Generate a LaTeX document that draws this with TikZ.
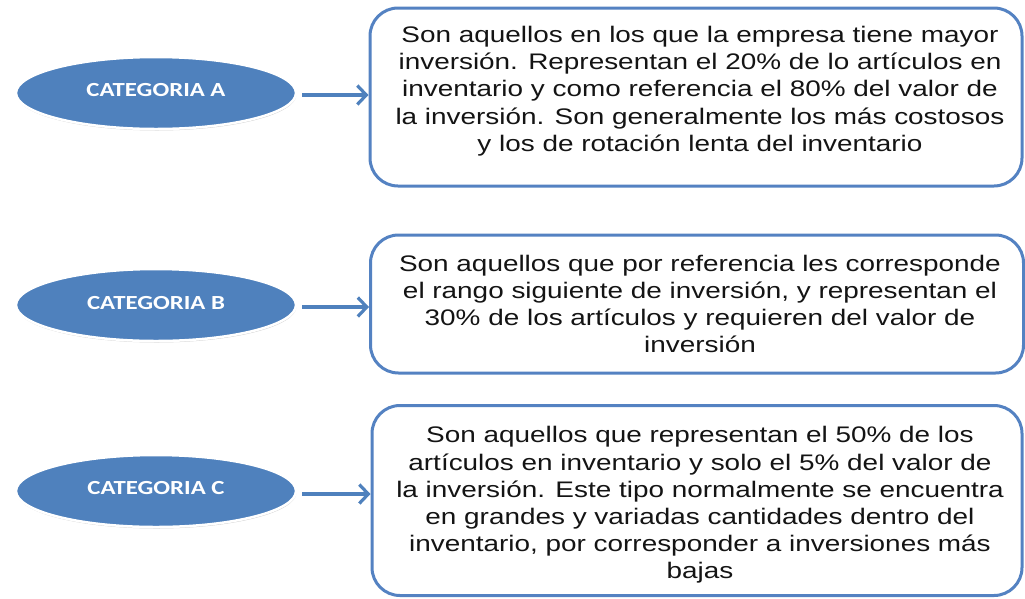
\documentclass[tikz,border=0pt]{standalone}
\usepackage{fontspec}
\setmainfont{Liberation Sans}[FakeStretch=1.24]
\newfontfamily\catfont{Carlito}[FakeStretch=1.24]
\usetikzlibrary{shapes.geometric,arrows.meta,shadows}
\definecolor{officeblue}{HTML}{4F81BD}
\definecolor{boxblue}{HTML}{5482C2}
\definecolor{txt}{HTML}{141414}
\tikzset{
  cat/.style={ellipse, fill=officeblue, draw=white, line width=2.5pt,
    minimum width=280pt, minimum height=72pt, inner sep=0pt,
    text=white, font=\catfont\bfseries\fontsize{20}{24}\selectfont,
    drop shadow={shadow xshift=0.5pt, shadow yshift=-1.5pt, fill=black!45, opacity=0.45}},
  infobox/.style={draw=boxblue, line width=3pt, rounded corners=28pt, fill=white,
    inner sep=0pt},
  desc/.style={align=center, text=txt, inner sep=0pt,
    font=\fontsize{22.5}{27.2}\selectfont},
  link/.style={draw=officeblue, line width=3.2pt, shorten <=5pt,
    -{Straight Barb[length=9pt,width=19pt,line width=3.2pt]}}
}
\begin{document}
\begin{tikzpicture}[x=1pt,y=1pt]
\useasboundingbox (0,0) rectangle (1025,-598);
% boxes
\node[infobox, minimum width=652pt, minimum height=178pt] (ba) at (696,-97) {};
\node[infobox, minimum width=653pt, minimum height=138pt] (bb) at (697,-304) {};
\node[infobox, minimum width=650pt, minimum height=190pt] (bc) at (697,-500.5) {};
% texts
\node[desc] (ta) at (700,-91) {Son aquellos en los que la empresa tiene mayor\\
inversión. Representan el 20\% de lo artículos en\\
inventario y como referencia el 80\% del valor de\\
la inversión. Son generalmente los más costosos\\
y los de rotación lenta del inventario};
\node[desc] (tb) at (700,-304) {Son aquellos que por referencia les corresponde\\
el rango siguiente de inversión, y representan el\\
30\% de los artículos y requieren del valor de\\
inversión};
\node[desc] (tc) at (700,-505) {Son aquellos que representan el 50\% de los\\
artículos en inventario y solo el 5\% del valor de\\
la inversión. Este tipo normalmente se encuentra\\
en grandes y variadas cantidades dentro del\\
inventario, por corresponder a inversiones más\\
bajas};
% ellipses
\node[cat] (ea) at (156,-93) {\raisebox{6pt}{CATEGORIA A}};
\node[cat] (eb) at (156,-305) {\raisebox{5pt}{CATEGORIA B}};
\node[cat] (ec) at (156,-491) {\raisebox{6pt}{CATEGORIA C}};
% connectors
\draw[link] ([yshift=-2pt]ea.east) -- ([yshift=-2pt]ea.east -| ba.west);
\draw[link] ([yshift=-2pt]eb.east) -- ([yshift=-2pt]eb.east -| bb.west);
\draw[link] ([yshift=-3pt]ec.east) -- ([yshift=-3pt]ec.east -| bc.west);
\end{tikzpicture}
\end{document}
